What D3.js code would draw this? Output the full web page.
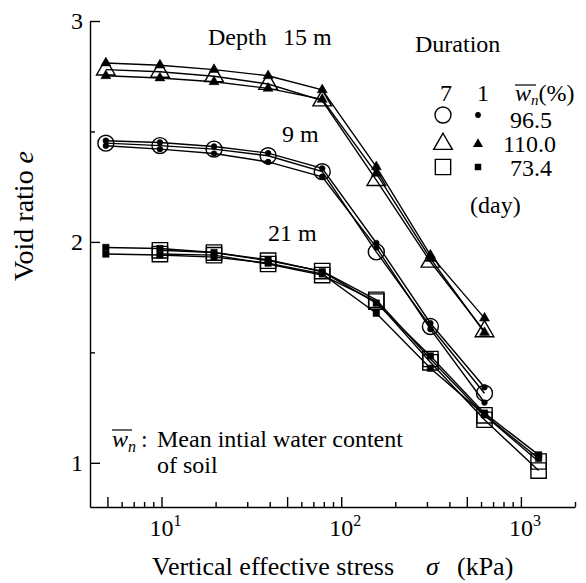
<!DOCTYPE html>
<html><head><meta charset="utf-8">
<script src="https://cdn.jsdelivr.net/npm/d3@7"></script>
<style>
body{margin:0;background:#fff}
svg{display:block}
svg text{font-family:"Liberation Serif","DejaVu Serif","Times New Roman",Times,serif !important;fill:#000}
</style>
</head><body>
<svg id="c" width="586" height="583" font-family="Liberation Serif, DejaVu Serif, serif"></svg>
<script>
// ---- data ----
const stress = [4.9, 9.8, 19.6, 39.2, 78.4, 156.8, 313.6, 627.2, 1254.4];

// Depth 15 m (triangles)
const d15_fillA = [2.81, 2.80, 2.78, 2.752, 2.688, 2.34, 1.94, 1.655];
const d15_open  = [2.78, 2.77, 2.75, 2.715, 2.64, 2.28, 1.91, 1.595];
const d15_fillB = [2.752, 2.742, 2.725, 2.695, 2.645, 2.31, 1.925, 1.59];

// Depth 9 m (circles)
const d9_fillA = [2.458, 2.45, 2.432, 2.402, 2.333, 1.995, 1.632, 1.342];
const d9_open  = [2.447, 2.436, 2.42, 2.39, 2.318, 1.955, 1.617, 1.315];
const d9_fillB = [2.435, 2.42, 2.40, 2.362, 2.295, 1.975, 1.605, 1.273];

// Depth 21 m (squares)
const d21_fillA = [1.975, 1.97, 1.952, 1.919, 1.865, 1.723, 1.484, 1.225, 1.036];
const d21_fillB = [1.945, 1.941, 1.931, 1.904, 1.855, 1.677, 1.428, 1.217, 1.02];
const d21_openA = [null, 1.962, 1.952, 1.915, 1.868, 1.738, 1.47, 1.215, 1.006];
const d21_openB = [null, 1.945, 1.94, 1.90, 1.85, 1.73, 1.455, 1.195, 0.965];

const xTicksMajor = [5, 10, 50, 100, 500, 1000];
const xTicksMinor = [6, 7, 8, 9, 20, 30, 40, 60, 70, 80, 90, 200, 300, 400, 600, 700, 800, 900, 2000];
const xLabelValues = [10, 100, 1000];
const xLabelExps = ["1", "2", "3"];
const yTicksMajor = [1, 2, 3];
const yTicksMinor = [1.5, 2.5];

const legendValues = ["96.5", "110.0", "73.4"];
const legendShapes = ["circle", "triangle", "square"];

// ---- chart ----
const FONT = "Liberation Serif, DejaVu Serif, serif";
const svg = d3.select("#c");
const x = d3.scaleLog().domain([4, 2000]).range([90, 575]);
const y = d3.scaleLinear().domain([0.8, 3]).range([507, 21]);
const SW = 1.4;

// x axis
const gx = svg.append("g").attr("transform", "translate(0,507)");
gx.call(d3.axisBottom(x).tickValues(xTicksMajor).tickSize(-10).tickSizeOuter(0).tickFormat(""));
const gx2 = svg.append("g").attr("transform", "translate(0,507)");
gx2.call(d3.axisBottom(x).tickValues(xTicksMinor).tickSize(-5).tickSizeOuter(0).tickFormat(""));
gx2.select(".domain").remove();
// y axis
const gy = svg.append("g").attr("transform", "translate(90,0)");
gy.call(d3.axisLeft(y).tickValues(yTicksMajor).tickSize(-10).tickSizeOuter(0).tickPadding(7).tickFormat(d3.format("d")));
const gy2 = svg.append("g").attr("transform", "translate(90,0)");
gy2.call(d3.axisLeft(y).tickValues(yTicksMinor).tickSize(-5).tickSizeOuter(0).tickFormat(""));
gy2.select(".domain").remove();
svg.selectAll("g").attr("font-family", FONT);
svg.selectAll(".domain, .tick line").attr("stroke", "#000").attr("stroke-width", SW);
gy.selectAll(".tick text").attr("font-size", 24).attr("dy", "0.33em").attr("fill", "#000");

// x tick labels with exponents
xLabelValues.forEach((v, i) => {
  const t = svg.append("text").attr("x", x(v) - 12).attr("y", 536).attr("font-size", 24);
  t.append("tspan").text("10");
  t.append("tspan").attr("dy", -10).attr("font-size", 16).text(xLabelExps[i]);
});

// axis titles
svg.append("text").attr("transform", "translate(33,216) rotate(-90)").attr("text-anchor", "middle")
  .attr("font-size", 28)
  .html('Void ratio <tspan font-style="italic">e</tspan>');
svg.append("text").attr("x", 152).attr("y", 575).attr("font-size", 26).text("Vertical effective stress");
svg.append("text").attr("x", 426).attr("y", 575).attr("font-size", 26).attr("font-style", "italic").text("σ");
svg.append("text").attr("x", 457).attr("y", 575).attr("font-size", 26).text("(kPa)");

// series
const line = d3.line().defined(d => d[1] != null).x(d => x(d[0])).y(d => y(d[1]));
const series = [
  {v: d15_fillA, shape: "triangle", filled: true},
  {v: d15_open, shape: "triangle", filled: false},
  {v: d15_fillB, shape: "triangle", filled: true},
  {v: d9_fillA, shape: "circle", filled: true},
  {v: d9_open, shape: "circle", filled: false},
  {v: d9_fillB, shape: "circle", filled: true},
  {v: d21_fillA, shape: "square", filled: true},
  {v: d21_fillB, shape: "square", filled: true},
  {v: d21_openA, shape: "square", filled: false},
  {v: d21_openB, shape: "square", filled: false}
];
function symPath(shape, filled) {
  if (shape === "circle") return d3.symbol(d3.symbolCircle, filled ? 26 : 200)();
  if (shape === "triangle") return d3.symbol(d3.symbolTriangle, filled ? 44 : 150)();
  return d3.symbol(d3.symbolSquare, filled ? 42 : 235)();
}
series.forEach(s => {
  const pts = s.v.map((e, i) => [stress[i], e]);
  svg.append("path").datum(pts).attr("d", line).attr("fill", "none").attr("stroke", "#000").attr("stroke-width", SW);
});
series.forEach(s => {
  const pts = s.v.map((e, i) => [stress[i], e]).filter(d => d[1] != null);
  svg.append("g").selectAll("path").data(pts).join("path")
    .attr("transform", d => `translate(${x(d[0])},${y(d[1])})`)
    .attr("d", symPath(s.shape, s.filled))
    .attr("fill", s.filled ? "#000" : "none")
    .attr("stroke", "#000").attr("stroke-width", s.filled ? 0.5 : SW);
});

// annotations
svg.append("text").attr("x", 208).attr("y", 45).attr("font-size", 24).text("Depth");
svg.append("text").attr("x", 283).attr("y", 45).attr("font-size", 24).text("15 m");
svg.append("text").attr("x", 282).attr("y", 142).attr("font-size", 24).text("9 m");
svg.append("text").attr("x", 268).attr("y", 241).attr("font-size", 24).text("21 m");

// legend
svg.append("text").attr("x", 415).attr("y", 52).attr("font-size", 24).text("Duration");
svg.append("text").attr("x", 440).attr("y", 101).attr("font-size", 24).text("7");
svg.append("text").attr("x", 477).attr("y", 101).attr("font-size", 24).text("1");
const wl = svg.append("text").attr("x", 515).attr("y", 101).attr("font-size", 24);
wl.append("tspan").attr("font-style", "italic").text("w");
wl.append("tspan").attr("font-style", "italic").attr("font-size", 15).attr("dy", 4).text("n");
wl.append("tspan").attr("dy", -4).text("(%)");
svg.append("line").attr("x1", 515).attr("x2", 536).attr("y1", 85).attr("y2", 85).attr("stroke", "#000").attr("stroke-width", 1.2);
const legY = [115, 144, 167];
const legBase = [128, 152, 176];
const legX = [510, 503, 510];
legendShapes.forEach((sh, i) => {
  svg.append("path").attr("transform", `translate(443,${legY[i]})`).attr("d", symPath(sh, false))
    .attr("fill", "none").attr("stroke", "#000").attr("stroke-width", SW);
  svg.append("path").attr("transform", `translate(478,${legY[i]})`).attr("d", symPath(sh, true))
    .attr("fill", "#000");
  svg.append("text").attr("x", legX[i]).attr("y", legBase[i]).attr("font-size", 24).text(legendValues[i]);
});
svg.append("text").attr("x", 470).attr("y", 213).attr("font-size", 24).text("(day)");

// note
const nt = svg.append("text").attr("x", 112).attr("y", 447).attr("font-size", 24);
nt.append("tspan").attr("font-style", "italic").text("w");
nt.append("tspan").attr("font-style", "italic").attr("font-size", 16).attr("dy", 5).text("n");
svg.append("line").attr("x1", 112).attr("x2", 132).attr("y1", 430).attr("y2", 430).attr("stroke", "#000").attr("stroke-width", 1.2);
svg.append("text").attr("x", 141).attr("y", 447).attr("font-size", 24).text(":");
svg.append("text").attr("x", 157).attr("y", 447).attr("font-size", 24).text("Mean intial water content");
svg.append("text").attr("x", 157).attr("y", 473).attr("font-size", 24).text("of soil");
</script>
</body></html>
